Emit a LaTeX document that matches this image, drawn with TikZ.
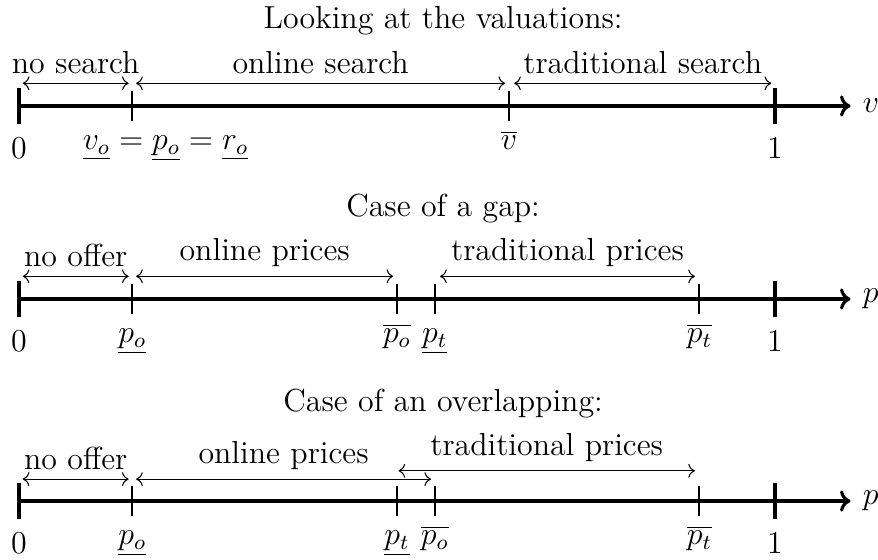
\documentclass[tikz,border=0pt]{standalone}
\usetikzlibrary{arrows.meta}
\begin{document}
\begin{tikzpicture}[font=\large,
  axisline/.style={line width=1.2pt,-{To[length=4pt,width=8pt,line width=1.2pt]}},
  bigtick/.style={line width=1.5pt},
  smalltick/.style={line width=0.8pt},
  spanarrow/.style={<->,line width=0.4pt},
  lab/.style={anchor=base,inner sep=0pt},
  ttl/.style={anchor=base,inner sep=0pt}]
\useasboundingbox (-0.251,1.402) rectangle (11.362,-6.005);
% ---------- Axis 1 ----------
\coordinate (a0) at (0,0);
\coordinate (a1) at (10,0);
\coordinate (aend) at (11,0);
\coordinate (avo) at (1.5,0);
\coordinate (avb) at (6.48,0);
\draw[axisline] (a0) -- (aend) node[right,inner sep=4pt] (av) {$v$};
\draw[bigtick] ([yshift=0.24cm]a0) -- ([yshift=-0.24cm]a0);
\draw[bigtick] ([yshift=0.24cm]a1) -- ([yshift=-0.24cm]a1);
\draw[smalltick] ([yshift=0.2cm]avo) -- ([yshift=-0.2cm]avo);
\draw[smalltick] ([yshift=0.2cm]avb) -- ([yshift=-0.2cm]avb);
\node[ttl] (t1) at (5.61,1.03) {Looking at the valuations:};
\coordinate (r1a) at (0.05,0.3); \coordinate (r1b) at (1.45,0.3);
\coordinate (r2a) at (1.55,0.3); \coordinate (r2b) at (6.43,0.3);
\coordinate (r3a) at (6.55,0.3); \coordinate (r3b) at (9.95,0.3);
\draw[spanarrow] (r1a) -- node[above] (n1) {no search} (r1b);
\draw[spanarrow] (r2a) -- node[above] (n2) {online search} (r2b);
\draw[spanarrow] (r3a) -- node[above] (n3) {traditional search} (r3b);
\node[lab] (l10) at (0,-0.70) {$0$};
\node[lab] (l1vo) at (1.94,-0.58) {$\underline{v_o}=\underline{p_o}=\underline{r_o}$};
\node[lab] (l1vb) at (6.48,-0.58) {$\overline{v}$};
\node[lab] (l11) at (10,-0.70) {$1$};
% ---------- Axis 2 ----------
\begin{scope}[yshift=-2.553cm]
\coordinate (b0) at (0,0);
\coordinate (b1) at (10,0);
\coordinate (bend) at (11,0);
\coordinate (bpo) at (1.5,0);
\coordinate (bpob) at (5.0,0);
\coordinate (bpt) at (5.5,0);
\coordinate (bptb) at (9.0,0);
\draw[axisline] (b0) -- (bend) node[right,inner sep=4pt] (bp) {$p$};
\draw[bigtick] ([yshift=0.24cm]b0) -- ([yshift=-0.24cm]b0);
\draw[bigtick] ([yshift=0.24cm]b1) -- ([yshift=-0.24cm]b1);
\foreach \c in {bpo,bpob,bpt,bptb}
  \draw[smalltick] ([yshift=0.2cm]\c) -- ([yshift=-0.2cm]\c);
\node[ttl] (t2) at (5.61,1.085) {Case of a gap:};
\coordinate (s1a) at (0.05,0.3); \coordinate (s1b) at (1.45,0.3);
\coordinate (s2a) at (1.55,0.3); \coordinate (s2b) at (4.95,0.3);
\coordinate (s3a) at (5.57,0.3); \coordinate (s3b) at (8.94,0.3);
\draw[spanarrow] (s1a) -- node[above] (m1) {no offer} (s1b);
\draw[spanarrow] (s2a) -- node[above] (m2) {online prices} (s2b);
\draw[spanarrow] (s3a) -- node[above] (m3) {traditional prices} (s3b);
\node[lab] (l20) at (0,-0.70) {$0$};
\node[lab] (l2po) at (1.5,-0.58) {$\underline{p_o}$};
\node[lab] (l2pob) at (5.0,-0.58) {$\overline{p_o}$};
\node[lab] (l2pt) at (5.5,-0.58) {$\underline{p_t}$};
\node[lab] (l2ptb) at (9.0,-0.58) {$\overline{p_t}$};
\node[lab] (l21) at (10,-0.70) {$1$};
\end{scope}
% ---------- Axis 3 ----------
\begin{scope}[yshift=-5.225cm]
\coordinate (c0) at (0,0);
\coordinate (c1) at (10,0);
\coordinate (cend) at (11,0);
\coordinate (cpo) at (1.5,0);
\coordinate (cpt) at (5.0,0);
\coordinate (cpob) at (5.5,0);
\coordinate (cptb) at (9.0,0);
\draw[axisline] (c0) -- (cend) node[right,inner sep=4pt] (cp) {$p$};
\draw[bigtick] ([yshift=0.24cm]c0) -- ([yshift=-0.24cm]c0);
\draw[bigtick] ([yshift=0.24cm]c1) -- ([yshift=-0.24cm]c1);
\foreach \c in {cpo,cpt,cpob,cptb}
  \draw[smalltick] ([yshift=0.2cm]\c) -- ([yshift=-0.2cm]\c);
\node[ttl] (t3) at (5.61,1.18) {Case of an overlapping:};
\coordinate (u1a) at (0.05,0.29); \coordinate (u1b) at (1.45,0.29);
\coordinate (u2a) at (1.55,0.29); \coordinate (u2b) at (5.45,0.29);
\coordinate (u3a) at (5.02,0.4); \coordinate (u3b) at (8.94,0.4);
\draw[spanarrow] (u1a) -- node[above] (k1) {no offer} (u1b);
\draw[spanarrow] (u2a) -- node[above] (k2) {online prices} (u2b);
\draw[spanarrow] (u3a) -- node[above] (k3) {traditional prices} (u3b);
\node[lab] (l30) at (0,-0.70) {$0$};
\node[lab] (l3po) at (1.5,-0.58) {$\underline{p_o}$};
\node[lab] (l3pt) at (5.0,-0.58) {$\underline{p_t}$};
\node[lab] (l3pob) at (5.5,-0.58) {$\overline{p_o}$};
\node[lab] (l3ptb) at (9.0,-0.58) {$\overline{p_t}$};
\node[lab] (l31) at (10,-0.70) {$1$};
\end{scope}
\end{tikzpicture}
\end{document}
